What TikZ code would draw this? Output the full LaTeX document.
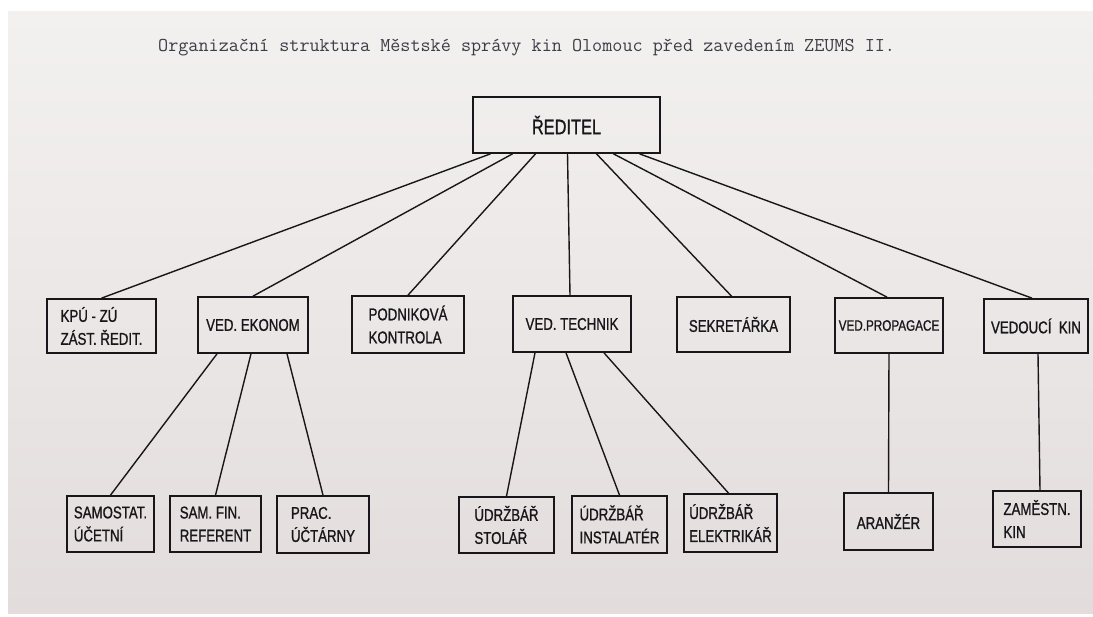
\documentclass[tikz,border=0pt]{standalone}
\usepackage{fontspec}
\usepackage{xcolor}
\usepackage{tikz}
\usetikzlibrary{
    positioning,
    calc
}
\newfontfamily\handfont[FakeStretch=0.78, FakeBold=1]{Liberation Sans}
\definecolor{paperTop}{RGB}{243,241,240}
\definecolor{paperLow}{RGB}{226,221,220}
\definecolor{inkBlack}{RGB}{24,22,26}
\definecolor{typeGrey}{RGB}{62,60,70}

\tikzset{
    post/.style={draw=inkBlack, line width=1.7pt, inner sep=2pt, align=left,
        text=inkBlack, font=\handfont\fontsize{17}{23}\selectfont},
    link/.style={draw=inkBlack, line width=1.4pt}
}

\begin{document}
\begin{tikzpicture}[x=1pt, y=-1pt]
        \useasboundingbox (0,0) rectangle (1093,617);
        \fill[white] (0,0) rectangle (1093,617);
        \shade[top color=paperTop, bottom color=paperLow] (8,12) rectangle (1093,613);

        \node[anchor=west, inner sep=0, text=typeGrey, font=\ttfamily\fontsize{19.6}{20}\selectfont] (title) at (158,47)
            {Organizační struktura Městské správy kin Olomouc před zavedením ZEUMS II.};

        % top
        \node[post, minimum width=187pt, minimum height=56pt, font=\handfont\fontsize{21}{23}\selectfont] (reditel) at (566.5,125) {ŘEDITEL};

        % first level
        \node[post, minimum width=109pt, minimum height=54pt] (kpu) at (101.5,326) {KPÚ - ZÚ\\ZÁST. ŘEDIT.};
        \node[post, minimum width=110pt, minimum height=56pt] (ekonom) at (253,325) {VED. EKONOM};
        \node[post, minimum width=112pt, minimum height=57pt] (kontrola) at (408,324.5) {PODNIKOVÁ\\KONTROLA};
        \node[post, minimum width=118pt, minimum height=56pt] (technik) at (572,324) {VED. TECHNIK};
        \node[post, minimum width=113pt, minimum height=55pt] (sekretarka) at (733.5,324.5) {SEKRETÁŘKA};
        \node[post, minimum width=108pt, minimum height=55pt, font=\handfont\fontsize{15}{23}\selectfont] (propagace) at (889,325.5) {VED.PROPAGACE};
        \node[post, minimum width=104pt, minimum height=54pt] (vedouci) at (1036,326) {VEDOUCÍ\ \ KIN};

        % second level
        \node[post, minimum width=87pt, minimum height=56pt] (ucetni) at (110.5,524) {SAMOSTAT.\\ÚČETNÍ};
        \node[post, minimum width=91pt, minimum height=56pt] (referent) at (215.5,524) {SAM. FIN.\\REFERENT};
        \node[post, minimum width=92pt, minimum height=57pt] (uctarny) at (323,524.5) {PRAC.\\ÚČTÁRNY};
        \node[post, minimum width=95pt, minimum height=56pt] (stolar) at (506.5,525) {ÚDRŽBÁŘ\\STOLÁŘ};
        \node[post, minimum width=95pt, minimum height=57pt] (instalater) at (619.5,524.5) {ÚDRŽBÁŘ\\INSTALATÉR};
        \node[post, minimum width=93pt, minimum height=58pt] (elektrikar) at (730.5,523) {ÚDRŽBÁŘ\\ELEKTRIKÁŘ};
        \node[post, minimum width=89pt, minimum height=57pt] (aranzer) at (888.5,521.5) {ARANŽÉR};
        \node[post, minimum width=88pt, minimum height=56pt] (zamestn) at (1037,519) {ZAMĚSTN.\\KIN};

        % lines from the director
        \draw[link] ([xshift=-76pt]reditel.south) -- (kpu.north);
        \draw[link] ([xshift=-54pt]reditel.south) -- (ekonom.north);
        \draw[link] ([xshift=-31pt]reditel.south) -- (kontrola.north);
        \draw[link] ([xshift=1pt]reditel.south) -- ([xshift=-2pt]technik.north);
        \draw[link] ([xshift=30pt]reditel.south) -- ([xshift=-2pt]sekretarka.north);
        \draw[link] ([xshift=47pt]reditel.south) -- ([xshift=-2pt]propagace.north);
        \draw[link] ([xshift=73pt]reditel.south) -- ([xshift=-4pt]vedouci.north);

        % lower lines
        \draw[link] ([xshift=-36pt]ekonom.south) -- (ucetni.north);
        \draw[link] ([xshift=-2pt]ekonom.south) -- (referent.north);
        \draw[link] ([xshift=34pt]ekonom.south) -- (uctarny.north);
        \draw[link] ([xshift=-37pt]technik.south) -- (stolar.north);
        \draw[link] ([xshift=-6pt]technik.south) -- (instalater.north);
        \draw[link] ([xshift=32pt]technik.south) -- ([xshift=-2pt]elektrikar.north);
        \draw[link] (propagace.south) -- (aranzer.north);
        \draw[link] ([xshift=2pt]vedouci.south) -- ([xshift=3pt]zamestn.north);
    \end{tikzpicture}
\end{document}
